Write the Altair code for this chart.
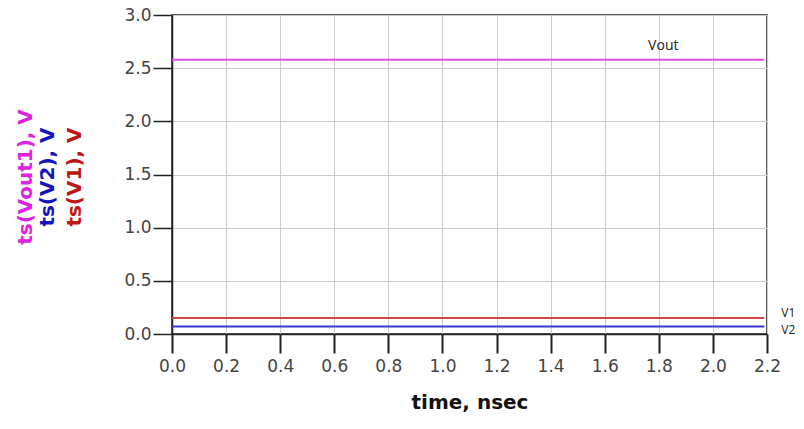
import altair as alt
import pandas as pd

# ---- data ----
time_ns = [0.0, 2.19]
vout = [2.58, 2.58]
v1 = [0.15, 0.15]
v2 = [0.07, 0.07]
series_names = ["Vout", "V1", "V2"]
series_colors = ["#e050e0", "#d04848", "#3838c8"]
x_ticks = [round(i * 0.1, 1) for i in range(23)]
y_ticks = [0.0, 0.5, 1.0, 1.5, 2.0, 2.5, 3.0]
y_titles = ["ts(Vout1), V", "ts(V2), V", "ts(V1), V"]
y_title_colors = ["#e020e0", "#1515c0", "#c01515"]

rows = []
for name, vals in zip(series_names, [vout, v1, v2]):
    for t, v in zip(time_ns, vals):
        rows.append({"time": t, "value": v, "series": name})
df = pd.DataFrame(rows)

W, H = 595, 319

x_enc = alt.X(
    "time:Q",
    scale=alt.Scale(domain=[0, 2.2], nice=False, zero=False),
    axis=alt.Axis(
        values=x_ticks,
        title="time, nsec",
        titleFont="DejaVu Sans",
        titleFontWeight="bold",
        titleFontSize=20,
        titleColor="#111111",
        titlePadding=18,
        labelExpr="round(datum.value*10) % 2 == 0 ? format(datum.value, '.1f') : ''",
        labelOverlap=False,
        labelFlush=False,
        labelBound=False,
        labelFont="DejaVu Sans",
        labelFontSize=17,
        labelColor="#444444",
        labelPadding=5,
        tickSize={"condition": {"test": "round(datum.value*10) % 2 == 0", "value": 19}, "value": 11},
        tickColor="#222222",
        tickWidth=2,
        gridOpacity={"condition": {"test": "round(datum.value*10) % 2 == 0", "value": 1}, "value": 0},
        gridColor="#cccccc",
        domainColor="#222222",
        domainWidth=1.5,
    ),
)
y_enc = alt.Y(
    "value:Q",
    scale=alt.Scale(domain=[0, 3.0], nice=False),
    axis=alt.Axis(
        values=y_ticks,
        format=".1f",
        title=None,
        labelFont="DejaVu Sans",
        labelFontSize=17,
        labelColor="#444444",
        labelPadding=2,
        labelFlush=False,
        tickSize=19,
        tickColor="#222222",
        tickWidth=1.5,
        gridColor="#cccccc",
        domainColor="#222222",
        domainWidth=1.5,
    ),
)

lines = alt.Chart(df).mark_line(strokeWidth=2).encode(
    x=x_enc,
    y=y_enc,
    color=alt.Color("series:N", scale=alt.Scale(domain=series_names, range=series_colors), legend=None),
    detail="series:N",
)

last = df[df["time"] == max(time_ns)]


def end_label(name, dx, dy, align, size):
    return alt.Chart(last[last["series"] == name]).mark_text(
        align=align, baseline="middle", dx=dx, dy=dy,
        font="Open Sans", fontSize=size, color="#222222",
    ).encode(x="time:Q", y="value:Q", text="series:N")


labels = [
    end_label("Vout", -101, -14, "center", 14),
    end_label("V1", 17, -5, "left", 12),
    end_label("V2", 17, 3, "left", 12),
]

title_x = [-146, -124, -97]
titles = []
for t, c, xp in zip(y_titles, y_title_colors, title_x):
    titles.append(
        alt.Chart(pd.DataFrame({"t": [t]})).mark_text(
            angle=270, align="center", baseline="middle",
            font="DejaVu Sans", fontWeight="bold", fontSize=20, color=c,
        ).encode(text="t:N", x=alt.value(xp), y=alt.value(162))
    )

chart = alt.layer(lines, *labels, *titles).properties(
    width=W, height=H,
    autosize=alt.AutoSizeParams(type="none"),
    padding={"left": 172, "top": 15, "right": 37, "bottom": 95},
    background="white",
).configure_view(stroke="#222222", strokeWidth=1.5)

chart.save("out.html", embed_options={"renderer": "svg", "actions": False})
